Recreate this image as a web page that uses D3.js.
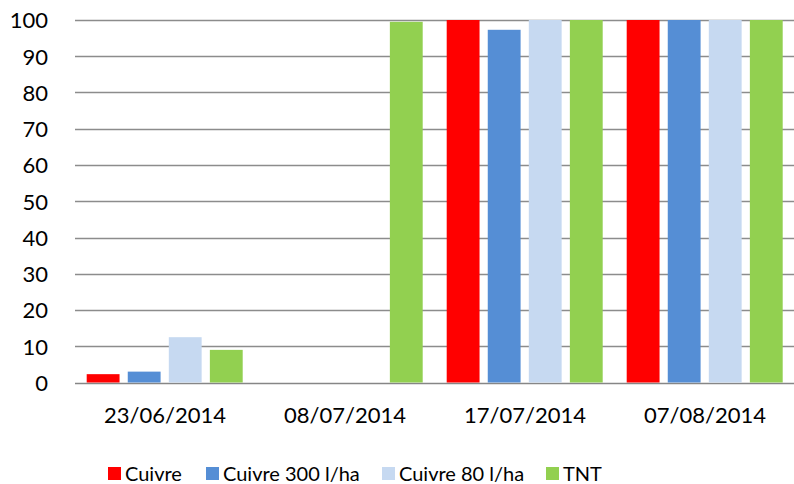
<!DOCTYPE html>
<html>
<head>
<meta charset="utf-8">
<script src="https://cdn.jsdelivr.net/npm/d3@7"></script>
<style>
  body { margin: 0; background: #fff; }
  text { font-family: Lato, "Open Sans", sans-serif; fill: #000; }
</style>
</head>
<body>
<svg width="794" height="484"></svg>
<script>
// data
var dates = ["23/06/2014", "08/07/2014", "17/07/2014", "07/08/2014"];
var seriesNames = ["Cuivre", "Cuivre 300 l/ha", "Cuivre 80 l/ha", "TNT"];
var cuivre = [2.3, 0, 100, 100];
var cuivre300 = [3, 0, 97.3, 100];
var cuivre80 = [12.5, 0, 100, 100];
var tnt = [9, 99.5, 100, 100];
var yTicks = [0, 10, 20, 30, 40, 50, 60, 70, 80, 90, 100];
var colors = ["#ff0000", "#558ed5", "#c6d9f1", "#92d050"];

var allSeries = [cuivre, cuivre300, cuivre80, tnt];

var svg = d3.select("svg");

// scales
var x0 = d3.scaleBand()
    .domain(dates)
    .range([75, 795]);

var x1 = d3.scaleBand()
    .domain(seriesNames)
    .range([11.7, 180 - 12.3])
    .paddingInner(0.2);

var y = d3.scaleLinear()
    .domain([0, 100])
    .range([382.5, 20]);

// gridlines
svg.append("g")
  .selectAll("line")
  .data(yTicks)
  .enter().append("line")
    .attr("x1", 75)
    .attr("x2", 795)
    .attr("y1", function(d){ return Math.round(y(d)) + 0.5 })
    .attr("y2", function(d){ return Math.round(y(d)) + 0.5 })
    .style("stroke", d => d == 0 ? "#868686" : "#8c8c8c")
    .style("stroke-width", 1.6);

// y axis labels
var yAxis = d3.axisLeft(y).tickValues(yTicks).tickSize(0).tickPadding(0);
var ya = svg.append("g")
    .attr("transform", "translate(48,0)")
    .call(yAxis);
ya.select(".domain").remove();
ya.selectAll("text")
    .style("font-size", "22px")
    .attr("font-family", null)
    .attr("dy", "0.36em");

// bars
var groups = svg.append("g")
  .selectAll("g")
  .data(dates)
  .enter().append("g")
    .attr("transform", function(d){ return "translate(" + x0(d) + ",0)" });

groups.selectAll("rect")
  .data(function(d, i){
    return seriesNames.map(function(s, j){ return {name: s, value: allSeries[j][i], c: colors[j]} })
  })
  .enter().append("rect")
    .attr("x", function(d){ return x1(d.name) })
    .attr("width", x1.bandwidth())
    .attr("y", function(d){ return y(d.value) })
    .attr("height", function(d){ return y(0) - y(d.value) })
    .style("fill", function(d){ return d.c });

// x axis labels
var xAxis = d3.axisBottom(x0).tickSize(0).tickPadding(0);
var xa = svg.append("g")
    .attr("transform", "translate(0,404)")
    .call(xAxis);
xa.select(".domain").remove();
xa.selectAll("text")
    .style("font-size", "22px")
    .attr("font-family", null)
    .attr("dy", "0.85em");

// legend
var legendX = [108, 206, 382, 546];
var legend = svg.append("g")
  .selectAll("g")
  .data(seriesNames)
  .enter().append("g")
    .attr("transform", function(d, i){ return "translate(" + legendX[i] + ",467)" });

legend.append("rect")
    .attr("width", 13)
    .attr("height", 13)
    .style("fill", function(d, i){ return colors[i] });

legend.append("text")
    .attr("x", 17)
    .attr("y", 14)
    .style("font-size", "20px")
    .text(function(d){ return d });
</script>
</body>
</html>
